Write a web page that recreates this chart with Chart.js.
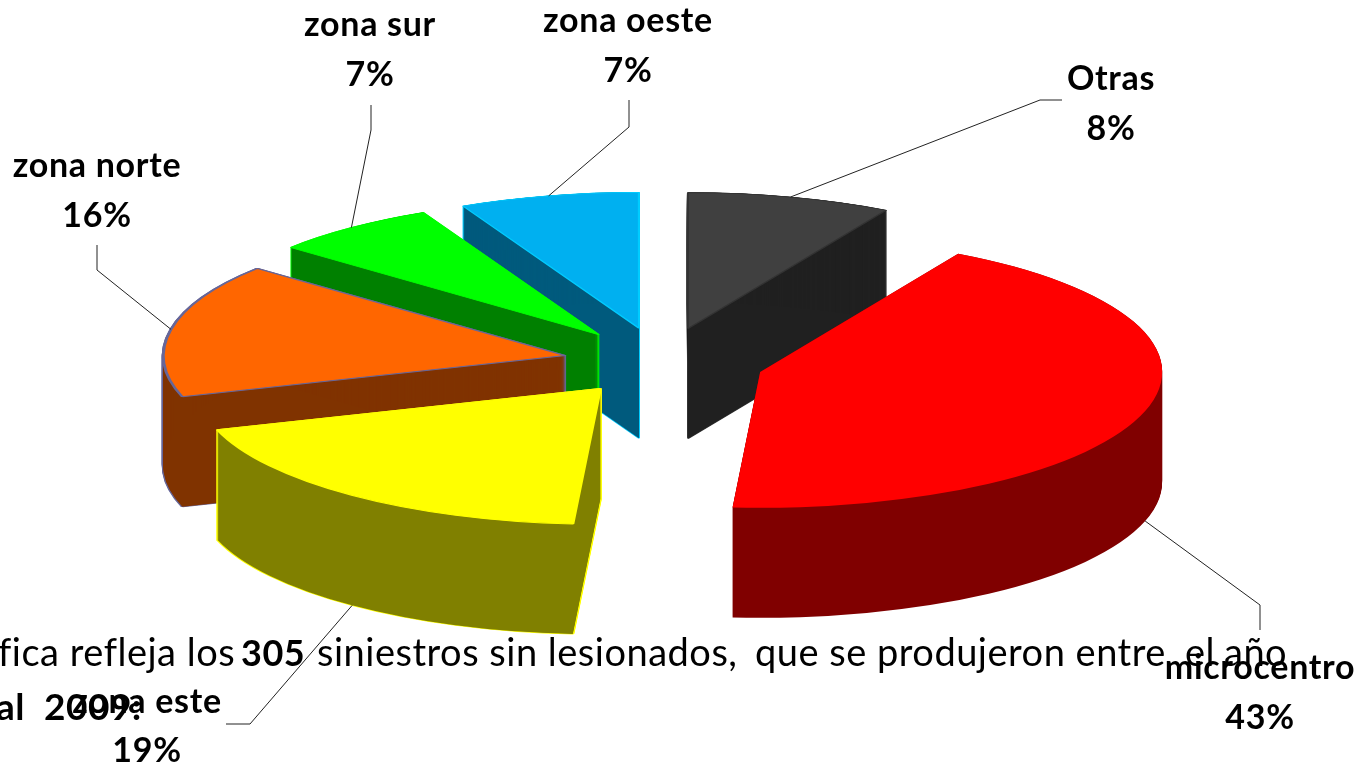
<!DOCTYPE html>
<html><head><meta charset="utf-8">
<style>html,body{margin:0;padding:0;background:#fff;overflow:hidden}canvas{display:block}</style>
<script src="https://cdn.jsdelivr.net/npm/chart.js@4"></script>
</head><body><canvas id="c" width="1365" height="769"></canvas>
<script>
const categories = ['microcentro','zona este','zona norte','zona sur','zona oeste','Otras'];
// shares; the printed labels are the rounded values
const shares = [42.9,19.0,16.0,6.7,7.2,8.2];
const percentLabels = ['43%','19%','16%','7%','7%','8%'];
const topColors = ['#FF0000','#FFFF00','#FF6600','#00FF00','#00B0F0','#404040'];
const sideColors = ['#800000','#808000','#803300','#008000','#005A7D','#202020'];
const edgeColors = ['#FF0000','#FFFF00','#666699','#00FF00','#00CCFF','#333333'];
const edgeWidths = [0,3,3,2,2,2];
const explodeBy = [0.255,0.248,0.245,0.255,0.255,0.255];

const TILT = 0.338, DEPTH = 110, FONT = 'Lato, Carlito, sans-serif';
// label layout: text centre, first and second baselines, leader elbow and leader end
const labelLayout = [
  {x:1260,y1:679,y2:729,elbow:[1260,605],end:[1260,630],front:true},
  {x:147, y1:713,y2:762,elbow:[250,724],end:[226,724],front:true},
  {x:97,  y1:177,y2:227,elbow:[97,270],end:[97,245]},
  {x:370, y1:36, y2:86, elbow:[371,130],end:[371,105]},
  {x:628, y1:32, y2:82, elbow:[629,127],end:[629,100]},
  {x:1111,y1:90, y2:140,elbow:[1040,100],end:[1062,100]}
];
const bodyRuns = [
  {t:'fica refleja los',x:-2,y:666,b:0,s:38},
  {t:'305',x:241,y:666,b:1,s:36},
  {t:'siniestros sin lesionados,',x:317,y:666,b:0,s:38},
  {t:'que se produjeron entre',x:755,y:666,b:0,s:38},
  {t:'el',x:1185,y:666,b:0,s:38},
  {t:'año',x:1224,y:666,b:0,s:38},
  {t:'al',x:-4,y:720,b:1,s:37},
  {t:'2009:',x:44,y:720,b:1,s:37}
];

const pie3d = {
  id:'pie3d',
  beforeDraw(chart){
    const ctx = chart.ctx;
    ctx.save();
    ctx.fillStyle='#fff';ctx.fillRect(0,0,chart.width,chart.height);
    ctx.fillStyle='#000';ctx.textAlign='left';ctx.textBaseline='alphabetic';
    ctx.letterSpacing='0.5px';
    bodyRuns.forEach(r=>{
      ctx.font=(r.b?'bold ':'')+r.s+'px '+FONT;
      ctx.fillText(r.t,r.x,r.y);
    });
    ctx.restore();
  },
  beforeDatasetDraw(chart,args){
    const ctx = chart.ctx, arcs = args.meta.data;
    const place = (el,i,dy)=>{
      const mid=(el.startAngle+el.endAngle)/2, e=explodeBy[i]*el.outerRadius;
      ctx.translate(0,dy);
      ctx.translate(el.x,el.y);ctx.scale(1,TILT);ctx.translate(-el.x,-el.y);
      ctx.translate(Math.cos(mid)*e,Math.sin(mid)*e);
    };
    const order = arcs.map((el,i)=>i).sort((a,b)=>{
      const m=i=>(arcs[i].startAngle+arcs[i].endAngle)/2;
      return Math.sin(m(a))-Math.sin(m(b));
    });
    order.forEach(i=>{
      const el=arcs[i], base=el.options;
      const paint=(fill,edge,w,dy)=>{
        el.options=Object.assign({},base,{backgroundColor:fill,borderColor:edge,borderWidth:w,offset:0});
        ctx.save();place(el,i,dy);el.draw(ctx);ctx.restore();
      };
      if(edgeWidths[i]>0) for(let d=0;d<=DEPTH;d+=1) paint(sideColors[i],edgeColors[i],edgeWidths[i],d);
      for(let d=0;d<=DEPTH;d+=1) paint(sideColors[i],sideColors[i],0,d);
      paint(topColors[i],edgeColors[i],edgeWidths[i],0);
      el.options=base;
    });
    return false;
  },
  afterDatasetsDraw(chart){
    const ctx=chart.ctx, arcs=chart.getDatasetMeta(0).data;
    ctx.save();
    arcs.forEach((el,i)=>{
      const L=labelLayout[i], mid=(el.startAngle+el.endAngle)/2;
      const r=el.outerRadius*(1+explodeBy[i]);
      const sx=el.x+Math.cos(mid)*r, sy=el.y+Math.sin(mid)*r*TILT+(L.front?DEPTH:0);
      ctx.strokeStyle='#222';ctx.lineWidth=1;
      ctx.beginPath();ctx.moveTo(sx,sy);ctx.lineTo(L.elbow[0],L.elbow[1]);ctx.lineTo(L.end[0],L.end[1]);ctx.stroke();
      ctx.fillStyle='#000';ctx.textAlign='center';ctx.textBaseline='alphabetic';
      ctx.letterSpacing='0.7px';
      ctx.font='bold 34px '+FONT;
      ctx.fillText(categories[i],L.x,L.y1);
      ctx.fillText(percentLabels[i],L.x,L.y2);
    });
    ctx.restore();
  }
};

new Chart(document.getElementById('c'),{
  type:'pie',
  data:{labels:categories,datasets:[{data:shares,backgroundColor:topColors,borderColor:edgeColors,borderWidth:0}]},
  options:{
    responsive:false,animation:false,rotation:29.5,radius:402,
    layout:{padding:{left:0,top:0,right:41,bottom:45}},
    plugins:{legend:{display:false},tooltip:{enabled:false}}
  },
  plugins:[pie3d]
});
</script></body></html>
